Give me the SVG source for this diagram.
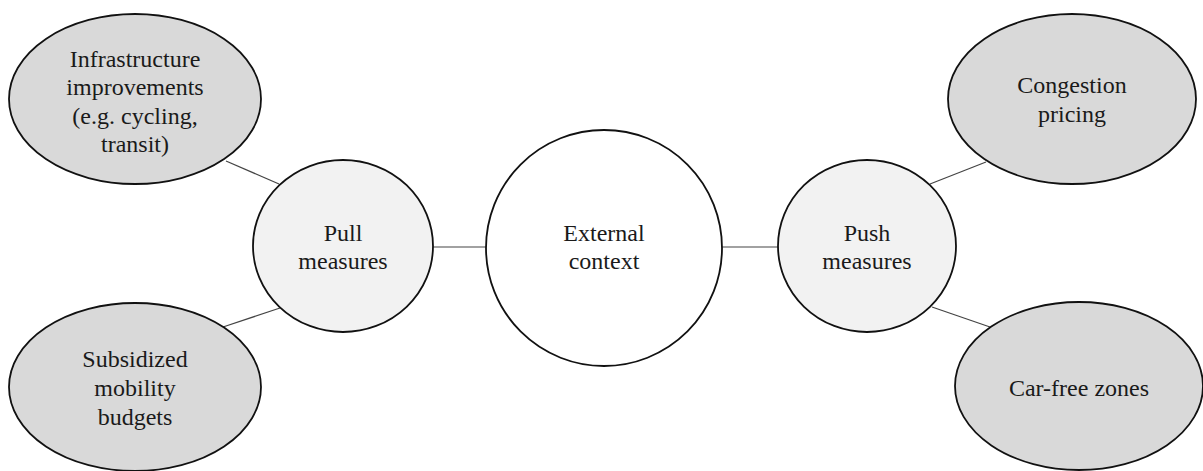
<svg xmlns="http://www.w3.org/2000/svg" width="1203" height="471" viewBox="0 0 1203 471">
<style>
.outer{fill:#d9d9d9;stroke:#111;stroke-width:1.8}
.mid{fill:#f2f2f2;stroke:#111;stroke-width:1.8}
.core{fill:#ffffff;stroke:#111;stroke-width:1.8}
.lbl{font-family:"Liberation Serif","Times New Roman",serif;font-size:24px;fill:#1a1a1a;text-anchor:middle}
.conn line{stroke:#444;stroke-width:1.2}
</style>
<rect width="1203" height="471" fill="#ffffff"/>
<g id="connectors" class="conn">
<line x1="226" y1="161" x2="279" y2="184"/>
<line x1="223" y1="327" x2="280" y2="308"/>
<line x1="433" y1="247" x2="486" y2="247"/>
<line x1="722" y1="247" x2="778" y2="247"/>
<line x1="930" y1="184" x2="986" y2="162"/>
<line x1="932" y1="307" x2="990" y2="327"/>
</g>
<g id="infrastructure">
<ellipse class="outer" cx="135" cy="99" rx="126" ry="85"/>
<text class="lbl" x="135" y="67">Infrastructure</text>
<text class="lbl" x="135" y="95">improvements</text>
<text class="lbl" x="135" y="124">(e.g. cycling,</text>
<text class="lbl" x="135" y="152">transit)</text>
</g>
<g id="subsidized">
<ellipse class="outer" cx="135" cy="387" rx="126" ry="84"/>
<text class="lbl" x="135" y="367">Subsidized</text>
<text class="lbl" x="135" y="396">mobility</text>
<text class="lbl" x="135" y="425">budgets</text>
</g>
<g id="pull">
<ellipse class="mid" cx="343" cy="246" rx="90" ry="86"/>
<text class="lbl" x="343" y="241">Pull</text>
<text class="lbl" x="343" y="269">measures</text>
</g>
<g id="external">
<ellipse class="core" cx="604" cy="248" rx="118" ry="118"/>
<text class="lbl" x="604" y="241">External</text>
<text class="lbl" x="604" y="269">context</text>
</g>
<g id="push">
<ellipse class="mid" cx="867" cy="246" rx="89" ry="86"/>
<text class="lbl" x="867" y="241">Push</text>
<text class="lbl" x="867" y="269">measures</text>
</g>
<g id="congestion">
<ellipse class="outer" cx="1072" cy="99" rx="124" ry="85"/>
<text class="lbl" x="1072" y="93">Congestion</text>
<text class="lbl" x="1072" y="122">pricing</text>
</g>
<g id="carfree">
<ellipse class="outer" cx="1079" cy="386" rx="124" ry="84"/>
<text class="lbl" x="1079" y="396">Car-free zones</text>
</g>
</svg>
